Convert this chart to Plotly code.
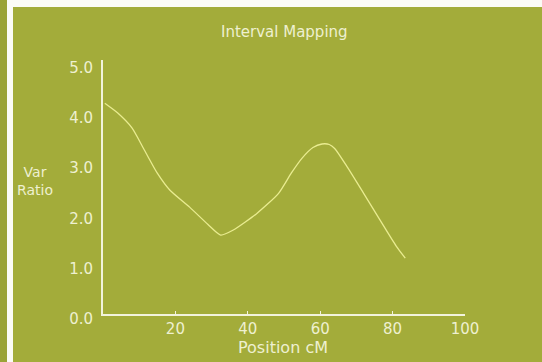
import plotly.graph_objects as go

# ---- data ----
position_cm = [0.5, 4, 8, 11.5, 15, 18.5, 24, 29, 32.5, 36, 42.5, 48.5, 52, 55, 58,
               60.5, 62.5, 64, 67.5, 72, 76.5, 81, 83.5]
var_ratio = [4.19, 4.0, 3.7, 3.25, 2.8, 2.46, 2.12, 1.78, 1.57, 1.67, 2.0, 2.4, 2.8,
             3.1, 3.31, 3.38, 3.37, 3.29, 2.92, 2.4, 1.87, 1.35, 1.11]
x_tick_vals = [20, 40, 60, 80, 100]
x_tick_text = ["20", "40", "60", "80", "100"]
y_tick_vals = [0, 1, 2, 3, 4, 5]
y_tick_text = ["0.0", "1.0", "2.0", "3.0", "4.0", "5.0"]

# ---- layout geometry (pixels) ----
W, H = 542, 362
L, R, T, B = 103, 77, 60, 48
PW, PH = W - L - R, H - T - B

def px(xp):
    return (xp - L) / PW

def py(yp):
    return (H - B - yp) / PH

BG = "#a3ac3a"
TXT = "#eef0d0"
LINE = "#e9ec90"
AX = "#f2f3dc"
FONT = "DejaVu Sans"

fig = go.Figure()
fig.add_trace(go.Scatter(
    x=position_cm, y=var_ratio, mode="lines",
    line=dict(color=LINE, width=1.3, shape="spline", smoothing=0.6),
    hoverinfo="skip", showlegend=False,
))

fig.update_layout(
    width=W, height=H,
    margin=dict(l=L, r=R, t=T, b=B, pad=0),
    paper_bgcolor=BG, plot_bgcolor=BG,
    font=dict(family=FONT, color=TXT, size=15),
    xaxis=dict(range=[0, 100], showgrid=False, zeroline=False,
               showline=True, linecolor=AX, linewidth=2,
               tickmode="array", tickvals=x_tick_vals, ticktext=x_tick_text,
               ticks="inside", ticklen=3, tickcolor=AX, tickwidth=1,
               tickfont=dict(size=15, color=TXT)),
    yaxis=dict(range=[0, 5.05], showgrid=False, zeroline=False,
               showline=True, linecolor=AX, linewidth=2,
               tickmode="array", tickvals=y_tick_vals, ticktext=y_tick_text,
               ticks="outside", ticklen=5, tickcolor=BG, tickwidth=1,
               ticklabelshift=5,
               tickfont=dict(size=15, color=TXT)),
    shapes=[
        dict(type="rect", xref="paper", yref="paper", layer="above",
             x0=px(7), x1=px(13), y0=py(H), y1=py(0),
             fillcolor="#fbfbf6", line=dict(width=0)),
        dict(type="rect", xref="paper", yref="paper", layer="above",
             x0=px(13), x1=px(W), y0=py(7), y1=py(0),
             fillcolor="#fbfbf6", line=dict(width=0)),
        dict(type="rect", xref="paper", yref="paper", layer="above",
             x0=px(0), x1=px(7), y0=py(H), y1=py(0),
             fillcolor="#9aa336", line=dict(width=0)),
    ],
    annotations=[
        dict(text="Interval Mapping", xref="paper", yref="paper",
             x=0.5, y=py(32), xanchor="center", yanchor="middle",
             showarrow=False, font=dict(size=15, color=TXT)),
        dict(text="Var<br>Ratio", xref="paper", yref="paper",
             x=px(35), y=py(181), xanchor="center", yanchor="middle",
             showarrow=False, align="center", font=dict(size=14, color=TXT)),
        dict(text="Position cM", xref="paper", yref="paper",
             x=px(283), y=py(347), xanchor="center", yanchor="middle",
             showarrow=False, font=dict(size=16, color=TXT)),
    ],
)

fig.write_html("out.html")
